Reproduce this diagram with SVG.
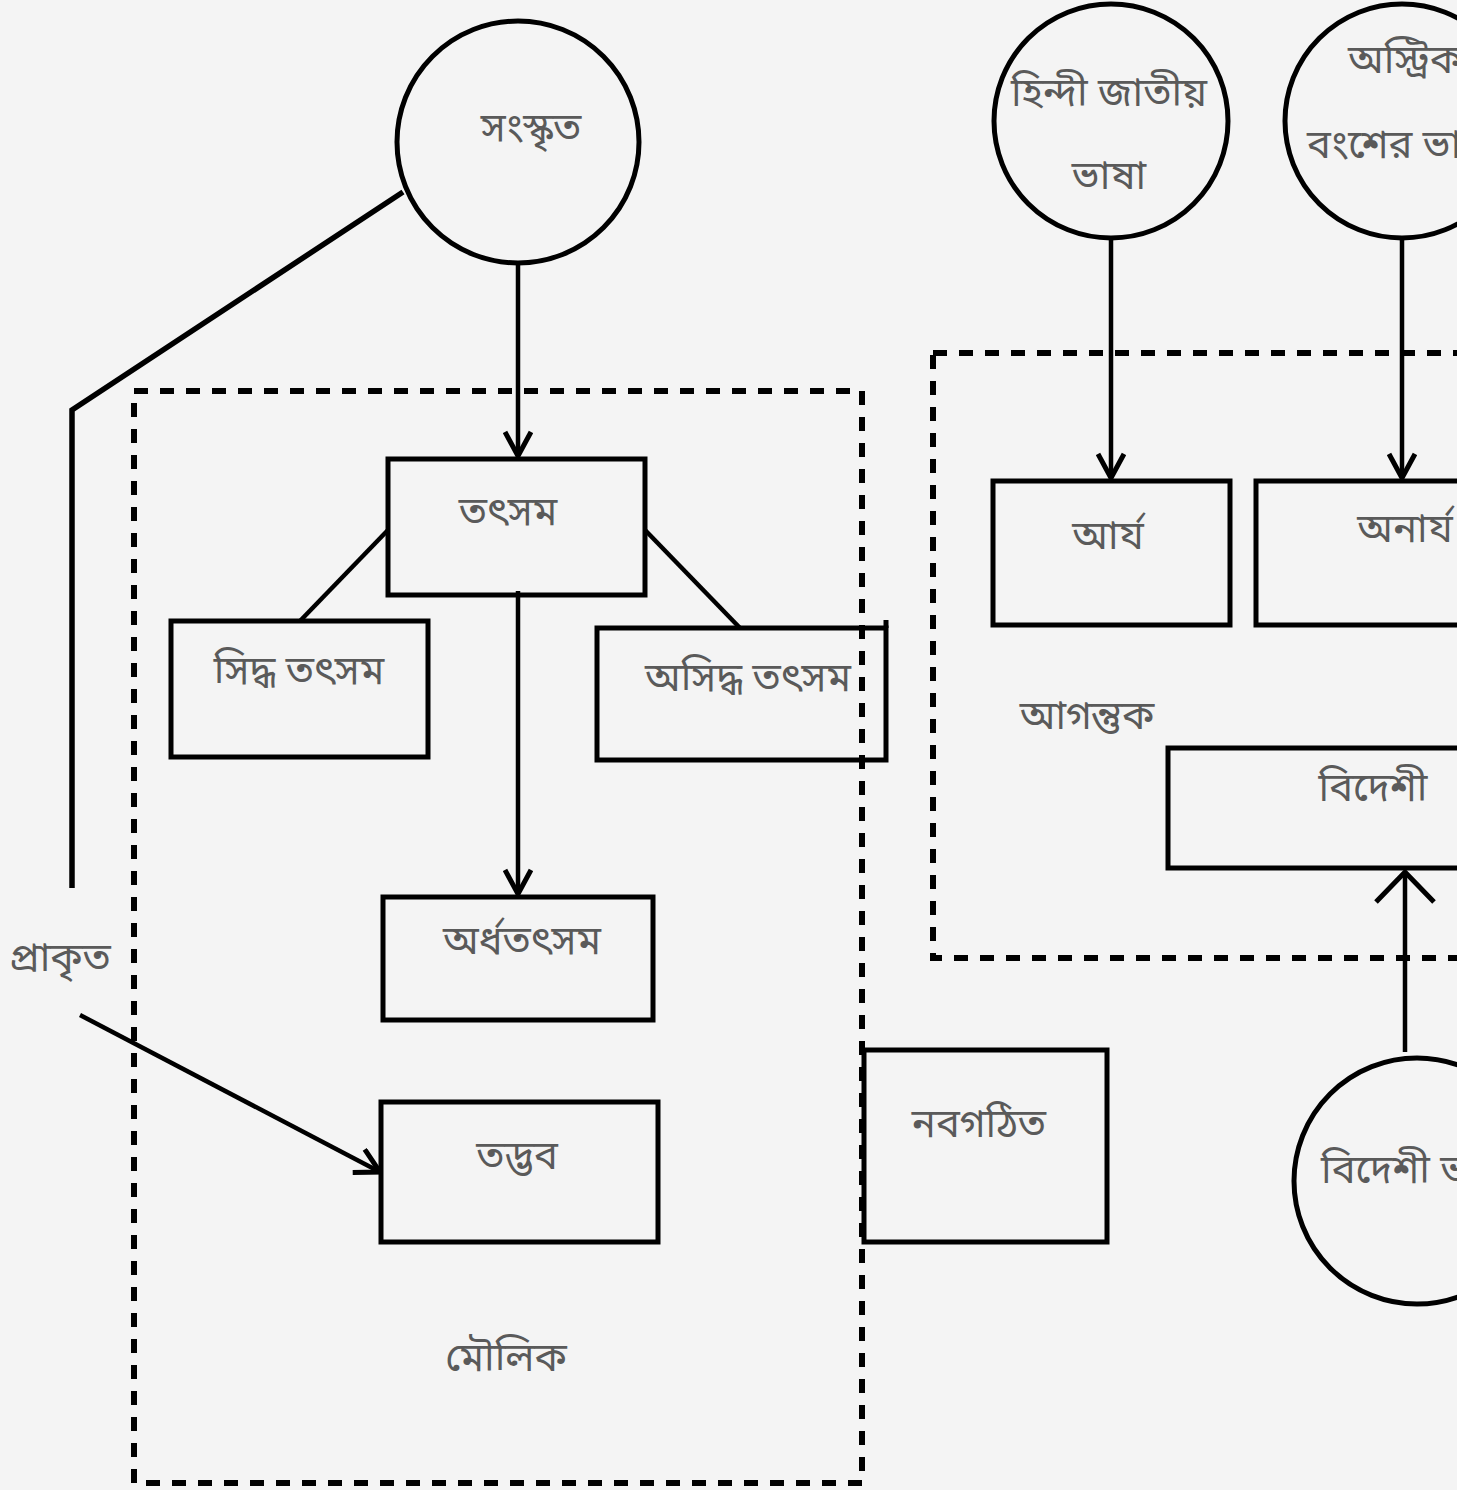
<svg xmlns="http://www.w3.org/2000/svg" width="1457" height="1490" viewBox="0 0 1457 1490">
<defs>
<style>
.bg{fill:#f4f4f4}
.node{fill:none;stroke:#000;stroke-width:5}
.grp{fill:none;stroke:#000;stroke-width:6;stroke-dasharray:14 12}
.edge{fill:none;stroke:#000;stroke-width:4.5}
.thick{fill:none;stroke:#000;stroke-width:5.5}
.t{font-family:"Noto Sans Bengali","Noto Sans","Liberation Sans",sans-serif;font-size:40px;fill:#5a5a5a;text-anchor:middle}
.ts{font-family:"Noto Sans Bengali","Noto Sans","Liberation Sans",sans-serif;font-size:40px;fill:#5a5a5a;text-anchor:start}
</style>
<marker id="arr" viewBox="0 0 30 30" refX="27" refY="15" markerWidth="30" markerHeight="30" markerUnits="userSpaceOnUse" orient="auto">
<path d="M3 2 L27 15 L3 28" fill="none" stroke="#000" stroke-width="5"/>
</marker>
<marker id="arrBig" viewBox="0 0 40 64" refX="36" refY="32" markerWidth="40" markerHeight="64" markerUnits="userSpaceOnUse" orient="auto">
<path d="M6 3 L36 32 L6 61" fill="none" stroke="#000" stroke-width="5"/>
</marker>
</defs>
<rect class="bg" x="0" y="0" width="1457" height="1490"/>
<g id="groups">
<rect id="maulik-group" class="grp" x="134" y="391" width="728" height="1092"/>
<rect id="agantuk-group" class="grp" x="933" y="353" width="560" height="605"/>
</g>
<g id="connectors">
<line class="edge" x1="518" y1="263" x2="518" y2="456" marker-end="url(#arr)"/>
<polyline class="thick" points="403,192 72,410 72,888"/>
<line class="edge" x1="80" y1="1015" x2="380" y2="1172" marker-end="url(#arr)"/>
<line class="edge" x1="388" y1="530" x2="300" y2="621"/>
<line class="edge" x1="645" y1="530" x2="740" y2="628"/>
<line class="edge" x1="518" y1="591" x2="518" y2="894" marker-end="url(#arr)"/>
<line class="edge" x1="1111" y1="238" x2="1111" y2="478" marker-end="url(#arr)"/>
<line class="edge" x1="1402" y1="238" x2="1402" y2="478" marker-end="url(#arr)"/>
<line class="edge" x1="1405" y1="1052" x2="1405" y2="872" marker-end="url(#arrBig)"/>
</g>
<g id="node-sanskrit"><circle class="node" cx="518" cy="142" r="121"/><text class="t" x="531" y="141">সংস্কৃত</text></g>
<g id="node-hindi"><circle class="node" cx="1111" cy="121" r="117"/><text class="t" x="1109" y="106">হিন্দী জাতীয়</text><text class="t" x="1109" y="189">ভাষা</text></g>
<g id="node-austric"><circle class="node" cx="1402" cy="121" r="117"/><text class="ts" x="1348" y="73">অস্ট্রিক</text><text class="ts" x="1307" y="158">বংশের ভাষা</text></g>
<g id="node-bideshi-bhasha"><circle class="node" cx="1417" cy="1181" r="123"/><text class="ts" x="1321" y="1183">বিদেশী ভাষা</text></g>
<g id="node-tatsama"><rect class="node" x="388" y="459" width="257" height="136"/><text class="t" x="508" y="525">তৎসম</text></g>
<g id="node-siddha"><rect class="node" x="171" y="621" width="257" height="136"/><text class="t" x="299" y="684">সিদ্ধ তৎসম</text></g>
<g id="node-asiddha"><rect class="node" x="597" y="628" width="289" height="132"/><line class="node" x1="886" y1="620" x2="886" y2="628"/><text class="t" x="748" y="691">অসিদ্ধ তৎসম</text></g>
<g id="node-ardha"><rect class="node" x="383" y="897" width="270" height="123"/><text class="t" x="522" y="954">অর্ধতৎসম</text></g>
<g id="node-tadbhava"><rect class="node" x="381" y="1102" width="277" height="140"/><text class="t" x="517" y="1169">তদ্ভব</text></g>
<g id="node-nabagathita"><rect class="node" x="864" y="1050" width="243" height="192"/><text class="t" x="979" y="1137">নবগঠিত</text></g>
<g id="node-arya"><rect class="node" x="993" y="481" width="237" height="144"/><text class="t" x="1108" y="549">আর্য</text></g>
<g id="node-anarya"><rect class="node" x="1256" y="481" width="240" height="144"/><text class="t" x="1405" y="542">অনার্য</text></g>
<g id="node-bideshi"><rect class="node" x="1168" y="748" width="330" height="120"/><text class="t" x="1373" y="801">বিদেশী</text></g>
<g id="labels">
<text class="t" x="60" y="971">প্রাকৃত</text>
<text class="t" x="1087" y="729">আগন্তুক</text>
<text class="t" x="506" y="1371">মৌলিক</text>
</g>
</svg>
